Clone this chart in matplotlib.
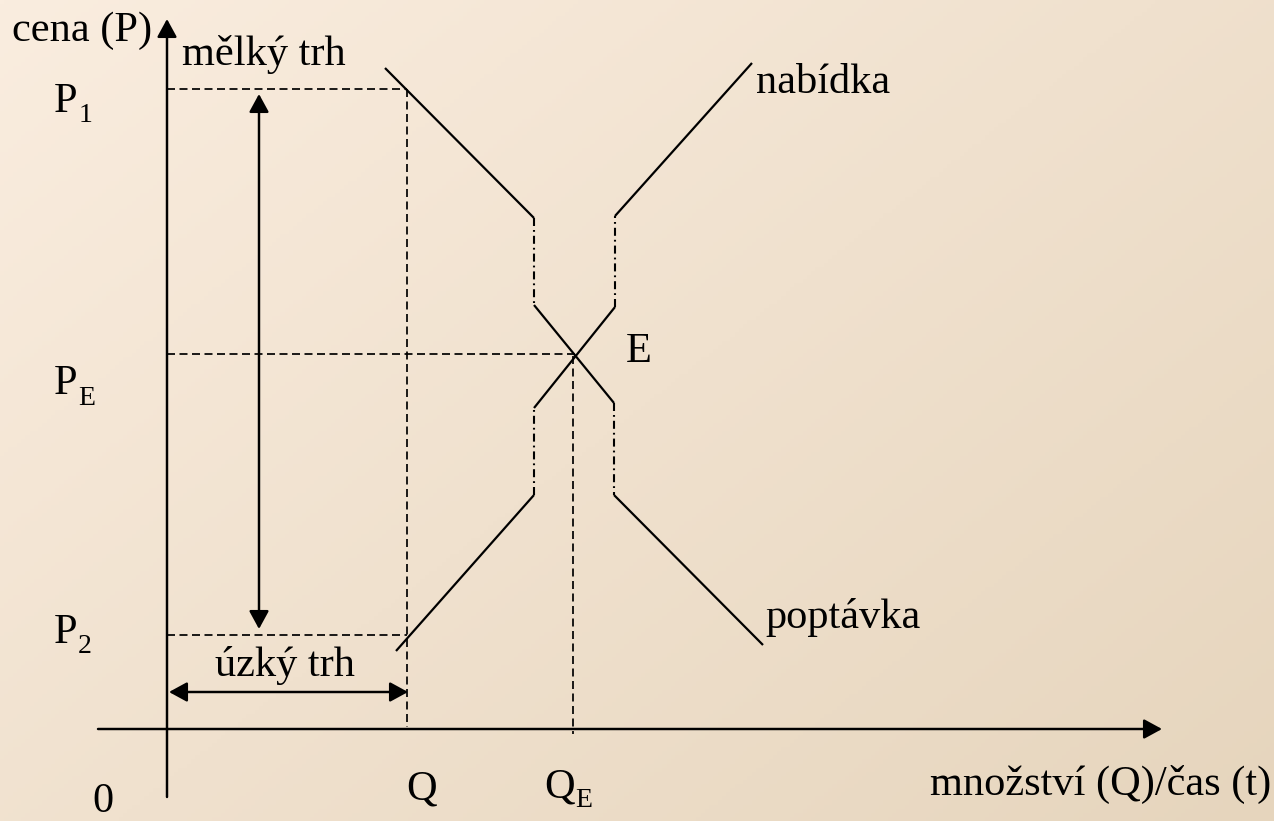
import numpy as np
import matplotlib
matplotlib.use("Agg")
import matplotlib.pyplot as plt

W, H = 1274, 821

# ---- diagram data (pixel-like canvas coordinates, y grows downward) ----
origin = (167, 729)
x_axis_span = [98, 1162]
y_axis_span = [797, 19]

# demand curve: three solid pieces joined by dash-dot vertical gaps
demand_q = [385, 534, 534, 614, 614, 763]
demand_p = [68, 218, 305, 403, 495, 645]
# supply curve
supply_q = [396, 534, 534, 615, 615, 752]
supply_p = [651, 495, 408, 307, 216, 63]

P1, PE, P2 = 89, 354, 635
Qn, QE = 407, 573
E_point = (575, 356)

fs = 30.5
sub_fs = 20
font = "Liberation Serif"

fig = plt.figure(figsize=(W / 100, H / 100), dpi=100)
ax = fig.add_axes([0, 0, 1, 1])
ax.set_xlim(0, W)
ax.set_ylim(H, 0)
ax.axis("off")

# background gradient
yy, xx = np.mgrid[0:1:200j, 0:1:300j]
t = (xx * 0.55 + yy * 0.45)
c0 = np.array([250, 237, 223]) / 255
c1 = np.array([230, 213, 189]) / 255
img = c0[None, None, :] * (1 - t[..., None]) + c1[None, None, :] * t[..., None]
ax.imshow(img, extent=[0, W, H, 0], aspect="auto", zorder=0)

k = "black"
lw = 1.6
dlw = 1.25
ddlw = 1.5
dash = (0, (8 * 0.72 / dlw, 4.5 * 0.72 / dlw))
dashdot = (0, (8 * 0.72 / ddlw, 4 * 0.72 / ddlw, 1.8 * 0.72 / ddlw, 4 * 0.72 / ddlw))

def arrow(tail, tip, style="-|>"):
    ax.annotate("", xy=tip, xytext=tail,
                arrowprops=dict(arrowstyle=style + ",head_length=0.55,head_width=0.3",
                                lw=lw * 1.1, color=k, shrinkA=0, shrinkB=0,
                                mutation_scale=20), zorder=5)

# axes
arrow((x_axis_span[0], origin[1]), (x_axis_span[1], origin[1]))
arrow((origin[0], y_axis_span[0]), (origin[0], y_axis_span[1]))

# dashed guide lines
ax.plot([origin[0], Qn], [P1, P1], color=k, lw=dlw, ls=dash, zorder=3)
ax.plot([Qn, Qn], [P1, origin[1] - 2], color=k, lw=dlw, ls=dash, zorder=3)
ax.plot([origin[0], Qn], [P2, P2], color=k, lw=dlw, ls=dash, zorder=3)
ax.plot([origin[0], E_point[0]], [PE, PE], color=k, lw=dlw, ls=dash, zorder=3)
ax.plot([QE, QE], [E_point[1], origin[1] + 5], color=k, lw=dlw, ls=dash, zorder=3)

# curves
for q, p in ((demand_q, demand_p), (supply_q, supply_p)):
    for i in range(0, 6, 2):
        ax.plot(q[i:i + 2], p[i:i + 2], color=k, lw=lw, solid_capstyle="butt", zorder=4)
    for i in (1, 3):
        ax.plot(q[i:i + 2], p[i:i + 2], color=k, lw=ddlw, ls=dashdot, zorder=4)

# range arrows
arrow((259, P2 - 6), (259, P1 + 5), style="<|-|>")
arrow((origin[0] + 2, 692), (Qn + 1, 692), style="<|-|>")

def txt(x, y, s, size=fs, ha="left"):
    ax.text(x, y, s, fontsize=size, family=font, ha=ha, va="baseline", color=k, zorder=6)

txt(12, 41, "cena (P)")
txt(182, 65, "mělký trh")
txt(54, 112, "P")
txt(79, 122, "1", sub_fs)
txt(54, 394, "P")
txt(78, 405, "E", sub_fs)
txt(54, 643, "P")
txt(78, 653, "2", sub_fs)
txt(92, 812, "0")
txt(406, 800, "Q")
txt(544, 797, "Q")
txt(575, 807, "E", sub_fs)
txt(1271, 795, "množství (Q)/čas (t)", ha="right")
txt(626, 362, "E")
txt(756, 93, "nabídka")
txt(765, 628, "poptávka")
txt(215, 676, "úzký trh")

fig.savefig("out.png", dpi=100)
